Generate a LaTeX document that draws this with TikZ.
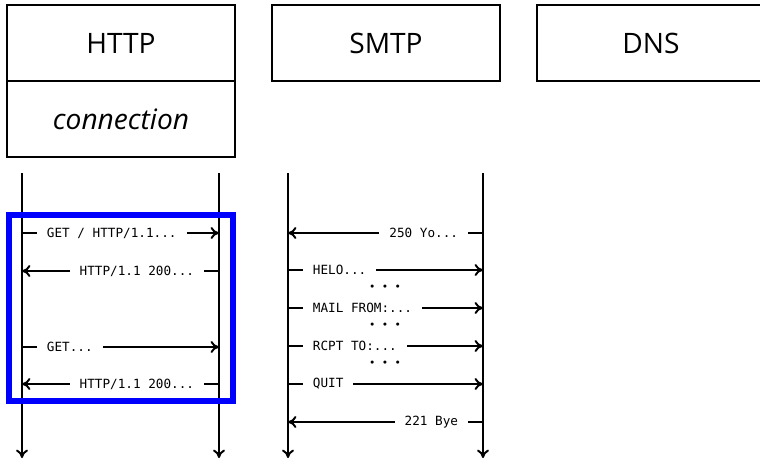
\documentclass[tikz,border=0pt]{standalone}
\usepackage{fontspec}
\setmainfont{Open Sans}
\newfontfamily\msgfont{DejaVu Sans Mono}
\usetikzlibrary{arrows.meta}

\tikzset{
  layer/.style={draw=black, line width=1.3pt, minimum width=5.7cm, minimum height=1.9cm,
    inner sep=0pt, font=\fontsize{20}{24}\selectfont},
  lifeline/.style={line width=1.4pt, -{To[length=6pt,width=8.5pt]}},
  msg/.style={line width=1.4pt, -{To[length=6pt,width=8.5pt]}},
  lbl/.style={fill=white, inner xsep=0.25cm, inner ysep=1pt, font=\msgfont\fontsize{9}{11}\selectfont},
  gap/.style={font=\msgfont\fontsize{7.5}{9}\selectfont, inner sep=0pt}
}

\begin{document}
\begin{tikzpicture}[x=0.025cm, y=-0.025cm]
      \clip (0,0) rectangle (760,459);

      % protocol layers
      \node[layer] (http) at (121,43) {HTTP};
      \node[layer] (conn) at (121,119) {\itshape connection};
      \node[layer] (smtp) at (386,43) {SMTP};
      \node[layer] (dns) at (651,43) {DNS};

      % lifelines
      \coordinate (hl) at (22,173);
      \coordinate (hr) at (219,173);
      \coordinate (sl) at (288,173);
      \coordinate (sr) at (483,173);
      \draw[lifeline] (hl) -- (22,458);
      \draw[lifeline] (hr) -- (219,458);
      \draw[lifeline] (sl) -- (288,458);
      \draw[lifeline] (sr) -- (483,458);

      % HTTP messages
      \coordinate (h1l) at (22,233);  \coordinate (h1r) at (219,233);
      \coordinate (h2l) at (22,271);  \coordinate (h2r) at (219,271);
      \coordinate (h3l) at (22,347);  \coordinate (h3r) at (219,347);
      \coordinate (h4l) at (22,384);  \coordinate (h4r) at (219,384);
      \draw[msg] (h1l) -- (h1r) node[lbl, pos=0, anchor=west, xshift=0.35cm] {GET / HTTP/1.1...};
      \draw[msg] (h2r) -- (h2l) node[lbl, pos=0, anchor=east, xshift=-0.35cm] {HTTP/1.1 200...};
      \draw[msg] (h3l) -- (h3r) node[lbl, pos=0, anchor=west, xshift=0.35cm] {GET...};
      \draw[msg] (h4r) -- (h4l) node[lbl, pos=0, anchor=east, xshift=-0.35cm] {HTTP/1.1 200...};

      % SMTP messages
      \coordinate (s1l) at (288,233);  \coordinate (s1r) at (483,233);
      \coordinate (s2l) at (288,270);  \coordinate (s2r) at (483,270);
      \coordinate (s3l) at (288,308);  \coordinate (s3r) at (483,308);
      \coordinate (s4l) at (288,346);  \coordinate (s4r) at (483,346);
      \coordinate (s5l) at (288,384);  \coordinate (s5r) at (483,384);
      \coordinate (s6l) at (288,422);  \coordinate (s6r) at (483,422);
      \draw[msg] (s1r) -- (s1l) node[lbl, pos=0, anchor=east, xshift=-0.35cm] {250 Yo...};
      \draw[msg] (s2l) -- (s2r) node[lbl, pos=0, anchor=west, xshift=0.35cm] {HELO...};
      \draw[msg] (s3l) -- (s3r) node[lbl, pos=0, anchor=west, xshift=0.35cm] {MAIL FROM:...};
      \draw[msg] (s4l) -- (s4r) node[lbl, pos=0, anchor=west, xshift=0.35cm] {RCPT TO:...};
      \draw[msg] (s5l) -- (s5r) node[lbl, pos=0, anchor=west, xshift=0.35cm] {QUIT};
      \draw[msg] (s6r) -- (s6l) node[lbl, pos=0, anchor=east, xshift=-0.35cm] {221 Bye};
      \node[gap] (g1) at (385,288) {• • •};
      \node[gap] (g2) at (385,326) {• • •};
      \node[gap] (g3) at (385,364) {• • •};

      % persistent connection
      \draw[draw=blue, line width=3.8pt] (9,215) rectangle (233,401);
\end{tikzpicture}
\end{document}
